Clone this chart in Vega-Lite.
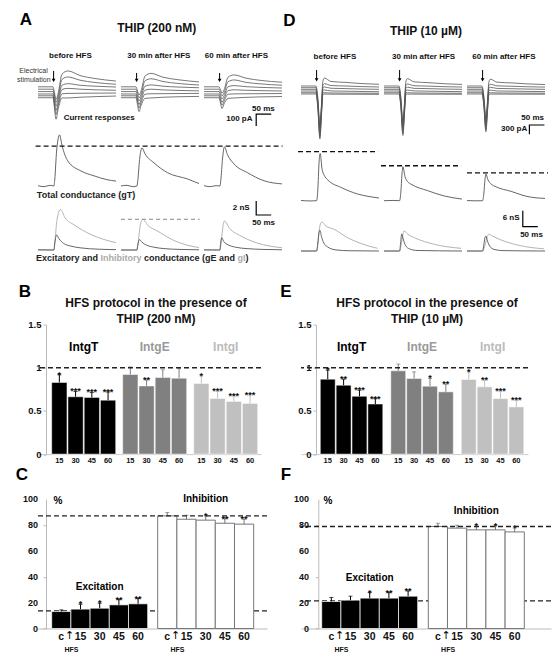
{
"$schema":"https://vega.github.io/schema/vega-lite/v6.json",
"background":"white",
"padding":{"left":15,"top":11,"right":0,"bottom":0},
"config":{"font":"Liberation Sans","view":{"stroke":null},"text":{"font":"Liberation Sans"},"title":{"font":"Liberation Sans"},"axis":{"labelFont":"Liberation Sans"}},
"datasets":{
"acur":[
{"s":"b","i":1,"t":0,"v":35},{"s":"b","i":1,"t":50,"v":35},{"s":"b","i":1,"t":55,"v":-18},{"s":"b","i":1,"t":60,"v":-70},{"s":"b","i":1,"t":67,"v":-23},{"s":"b","i":1,"t":80,"v":141},{"s":"b","i":1,"t":100,"v":167},{"s":"b","i":1,"t":140,"v":129},{"s":"b","i":1,"t":190,"v":104},{"s":"b","i":1,"t":260,"v":83},
{"s":"b","i":2,"t":0,"v":15},{"s":"b","i":2,"t":50,"v":15},{"s":"b","i":2,"t":55,"v":-40},{"s":"b","i":2,"t":60,"v":-95},{"s":"b","i":2,"t":67,"v":-46},{"s":"b","i":2,"t":80,"v":97},{"s":"b","i":2,"t":100,"v":117},{"s":"b","i":2,"t":140,"v":90},{"s":"b","i":2,"t":190,"v":71},{"s":"b","i":2,"t":260,"v":56},
{"s":"b","i":3,"t":0,"v":-5},{"s":"b","i":3,"t":50,"v":-5},{"s":"b","i":3,"t":55,"v":-65},{"s":"b","i":3,"t":60,"v":-125},{"s":"b","i":3,"t":67,"v":-71},{"s":"b","i":3,"t":80,"v":48},{"s":"b","i":3,"t":100,"v":61},{"s":"b","i":3,"t":140,"v":48},{"s":"b","i":3,"t":190,"v":40},{"s":"b","i":3,"t":260,"v":33},
{"s":"b","i":4,"t":0,"v":-25},{"s":"b","i":4,"t":50,"v":-25},{"s":"b","i":4,"t":55,"v":-93},{"s":"b","i":4,"t":60,"v":-160},{"s":"b","i":4,"t":67,"v":-99},{"s":"b","i":4,"t":80,"v":13},{"s":"b","i":4,"t":100,"v":22},{"s":"b","i":4,"t":140,"v":15},{"s":"b","i":4,"t":190,"v":10},{"s":"b","i":4,"t":260,"v":6},
{"s":"b","i":5,"t":0,"v":-40},{"s":"b","i":5,"t":50,"v":-40},{"s":"b","i":5,"t":55,"v":-118},{"s":"b","i":5,"t":60,"v":-195},{"s":"b","i":5,"t":67,"v":-125},{"s":"b","i":5,"t":80,"v":-24},{"s":"b","i":5,"t":100,"v":-20},{"s":"b","i":5,"t":140,"v":-19},{"s":"b","i":5,"t":190,"v":-18},{"s":"b","i":5,"t":260,"v":-17},
{"s":"b","i":6,"t":0,"v":-56},{"s":"b","i":6,"t":50,"v":-56},{"s":"b","i":6,"t":55,"v":-146},{"s":"b","i":6,"t":60,"v":-235},{"s":"b","i":6,"t":67,"v":-154},{"s":"b","i":6,"t":80,"v":-58},{"s":"b","i":6,"t":100,"v":-58},{"s":"b","i":6,"t":140,"v":-52},{"s":"b","i":6,"t":190,"v":-47},{"s":"b","i":6,"t":260,"v":-42},
{"s":"30","i":1,"t":0,"v":35},{"s":"30","i":1,"t":50,"v":35},{"s":"30","i":1,"t":55,"v":1},{"s":"30","i":1,"t":60,"v":-33},{"s":"30","i":1,"t":67,"v":0},{"s":"30","i":1,"t":80,"v":125},{"s":"30","i":1,"t":100,"v":147},{"s":"30","i":1,"t":140,"v":115},{"s":"30","i":1,"t":190,"v":94},{"s":"30","i":1,"t":260,"v":76},
{"s":"30","i":2,"t":0,"v":15},{"s":"30","i":2,"t":50,"v":15},{"s":"30","i":2,"t":55,"v":-21},{"s":"30","i":2,"t":60,"v":-57},{"s":"30","i":2,"t":67,"v":-25},{"s":"30","i":2,"t":80,"v":85},{"s":"30","i":2,"t":100,"v":102},{"s":"30","i":2,"t":140,"v":79},{"s":"30","i":2,"t":190,"v":63},{"s":"30","i":2,"t":260,"v":50},
{"s":"30","i":3,"t":0,"v":-5},{"s":"30","i":3,"t":50,"v":-5},{"s":"30","i":3,"t":55,"v":-44},{"s":"30","i":3,"t":60,"v":-83},{"s":"30","i":3,"t":67,"v":-48},{"s":"30","i":3,"t":80,"v":40},{"s":"30","i":3,"t":100,"v":51},{"s":"30","i":3,"t":140,"v":40},{"s":"30","i":3,"t":190,"v":33},{"s":"30","i":3,"t":260,"v":27},
{"s":"30","i":4,"t":0,"v":-25},{"s":"30","i":4,"t":50,"v":-25},{"s":"30","i":4,"t":55,"v":-69},{"s":"30","i":4,"t":60,"v":-113},{"s":"30","i":4,"t":67,"v":-73},{"s":"30","i":4,"t":80,"v":7},{"s":"30","i":4,"t":100,"v":15},{"s":"30","i":4,"t":140,"v":9},{"s":"30","i":4,"t":190,"v":5},{"s":"30","i":4,"t":260,"v":1},
{"s":"30","i":5,"t":0,"v":-40},{"s":"30","i":5,"t":50,"v":-40},{"s":"30","i":5,"t":55,"v":-90},{"s":"30","i":5,"t":60,"v":-141},{"s":"30","i":5,"t":67,"v":-95},{"s":"30","i":5,"t":80,"v":-27},{"s":"30","i":5,"t":100,"v":-23},{"s":"30","i":5,"t":140,"v":-22},{"s":"30","i":5,"t":190,"v":-21},{"s":"30","i":5,"t":260,"v":-20},
{"s":"30","i":6,"t":0,"v":-56},{"s":"30","i":6,"t":50,"v":-56},{"s":"30","i":6,"t":55,"v":-114},{"s":"30","i":6,"t":60,"v":-172},{"s":"30","i":6,"t":67,"v":-120},{"s":"30","i":6,"t":80,"v":-62},{"s":"30","i":6,"t":100,"v":-58},{"s":"30","i":6,"t":140,"v":-52},{"s":"30","i":6,"t":190,"v":-48},{"s":"30","i":6,"t":260,"v":-45},
{"s":"60","i":1,"t":0,"v":35},{"s":"60","i":1,"t":50,"v":35},{"s":"60","i":1,"t":55,"v":9},{"s":"60","i":1,"t":60,"v":-17},{"s":"60","i":1,"t":67,"v":10},{"s":"60","i":1,"t":80,"v":114},{"s":"60","i":1,"t":100,"v":134},{"s":"60","i":1,"t":140,"v":107},{"s":"60","i":1,"t":190,"v":88},{"s":"60","i":1,"t":260,"v":73},
{"s":"60","i":2,"t":0,"v":15},{"s":"60","i":2,"t":50,"v":15},{"s":"60","i":2,"t":55,"v":-12},{"s":"60","i":2,"t":60,"v":-40},{"s":"60","i":2,"t":67,"v":-15},{"s":"60","i":2,"t":80,"v":77},{"s":"60","i":2,"t":100,"v":92},{"s":"60","i":2,"t":140,"v":72},{"s":"60","i":2,"t":190,"v":59},{"s":"60","i":2,"t":260,"v":48},
{"s":"60","i":3,"t":0,"v":-5},{"s":"60","i":3,"t":50,"v":-5},{"s":"60","i":3,"t":55,"v":-35},{"s":"60","i":3,"t":60,"v":-65},{"s":"60","i":3,"t":67,"v":-38},{"s":"60","i":3,"t":80,"v":35},{"s":"60","i":3,"t":100,"v":45},{"s":"60","i":3,"t":140,"v":36},{"s":"60","i":3,"t":190,"v":30},{"s":"60","i":3,"t":260,"v":25},
{"s":"60","i":4,"t":0,"v":-25},{"s":"60","i":4,"t":50,"v":-25},{"s":"60","i":4,"t":55,"v":-59},{"s":"60","i":4,"t":60,"v":-93},{"s":"60","i":4,"t":67,"v":-62},{"s":"60","i":4,"t":80,"v":3},{"s":"60","i":4,"t":100,"v":10},{"s":"60","i":4,"t":140,"v":6},{"s":"60","i":4,"t":190,"v":3},{"s":"60","i":4,"t":260,"v":0},
{"s":"60","i":5,"t":0,"v":-40},{"s":"60","i":5,"t":50,"v":-40},{"s":"60","i":5,"t":55,"v":-79},{"s":"60","i":5,"t":60,"v":-118},{"s":"60","i":5,"t":67,"v":-83},{"s":"60","i":5,"t":80,"v":-27},{"s":"60","i":5,"t":100,"v":-24},{"s":"60","i":5,"t":140,"v":-23},{"s":"60","i":5,"t":190,"v":-22},{"s":"60","i":5,"t":260,"v":-21},
{"s":"60","i":6,"t":0,"v":-56},{"s":"60","i":6,"t":50,"v":-56},{"s":"60","i":6,"t":55,"v":-101},{"s":"60","i":6,"t":60,"v":-146},{"s":"60","i":6,"t":67,"v":-106},{"s":"60","i":6,"t":80,"v":-62},{"s":"60","i":6,"t":100,"v":-58},{"s":"60","i":6,"t":140,"v":-53},{"s":"60","i":6,"t":190,"v":-49},{"s":"60","i":6,"t":260,"v":-46}
],
"a1":[
{"k":"arr","s":"b","t":52,"v":167,"v2":88},{"k":"arr","s":"30","t":52,"v":150,"v2":88},{"k":"arr","s":"60","t":52,"v":150,"v2":88},
{"k":"sb","s":"60","o":1,"t":224,"v":-192},{"k":"sb","s":"60","o":2,"t":174,"v":-192},{"k":"sb","s":"60","o":3,"t":174,"v":-292},
{"k":"b8","s":"b","t":108,"v":292,"lab":"before HFS"},{"k":"b8","s":"30","t":126,"v":292,"lab":"30 min after HFS"},{"k":"b8","s":"60","t":108,"v":292,"lab":"60 min after HFS"},
{"k":"b8","s":"b","t":204,"v":-222,"lab":"Current responses"},
{"k":"b8","s":"60","t":198,"v":-152,"lab":"50 ms"},{"k":"b8","s":"60","t":118,"v":-236,"lab":"100 pA"},
{"k":"let","s":"b","t":-40,"v":589,"lab":"A"},
{"k":"ti","s":"30","t":119,"v":529,"lab":"THIP (200 nM)"},
{"k":"n7","s":"b","t":-15,"v":167,"lab":"Electrical"},{"k":"n7","s":"b","t":-14,"v":92,"lab":"stimulation"}
],
"agt":[
{"s":"b","i":"T","t":0,"v":0.05},{"s":"b","i":"T","t":20,"v":-0.1},{"s":"b","i":"T","t":40,"v":0.1},{"s":"b","i":"T","t":53,"v":0},{"s":"b","i":"T","t":56,"v":1.0},{"s":"b","i":"T","t":62,"v":5.0},{"s":"b","i":"T","t":72,"v":7.3},{"s":"b","i":"T","t":80,"v":5.8},{"s":"b","i":"T","t":99,"v":3.6},{"s":"b","i":"T","t":143,"v":2.15},{"s":"b","i":"T","t":187,"v":1.45},{"s":"b","i":"T","t":230,"v":0.9},{"s":"b","i":"T","t":260,"v":0.7},
{"s":"30","i":"T","t":0,"v":0},{"s":"30","i":"T","t":20,"v":0.1},{"s":"30","i":"T","t":40,"v":-0.1},{"s":"30","i":"T","t":53,"v":0},{"s":"30","i":"T","t":56,"v":0.8},{"s":"30","i":"T","t":62,"v":3.8},{"s":"30","i":"T","t":70,"v":5.45},{"s":"30","i":"T","t":80,"v":4.6},{"s":"30","i":"T","t":110,"v":3.3},{"s":"30","i":"T","t":155,"v":1.9},{"s":"30","i":"T","t":222,"v":1.0},{"s":"30","i":"T","t":260,"v":0.35},
{"s":"60","i":"T","t":0,"v":0.05},{"s":"60","i":"T","t":20,"v":-0.1},{"s":"60","i":"T","t":40,"v":0.05},{"s":"60","i":"T","t":53,"v":0},{"s":"60","i":"T","t":56,"v":0.8},{"s":"60","i":"T","t":62,"v":4.0},{"s":"60","i":"T","t":68,"v":5.6},{"s":"60","i":"T","t":78,"v":4.5},{"s":"60","i":"T","t":100,"v":3.15},{"s":"60","i":"T","t":145,"v":1.9},{"s":"60","i":"T","t":200,"v":0.75},{"s":"60","i":"T","t":260,"v":0.3}
],
"a2":[
{"k":"dash","s":"b","t":-8,"v":5.71},{"k":"dash","s":"b","t":268,"v":5.71},{"k":"dash","s":"30","t":-8,"v":5.71},{"k":"dash","s":"30","t":268,"v":5.71},{"k":"dash","s":"60","t":-8,"v":5.71},{"k":"dash","s":"60","t":262,"v":5.71},
{"k":"sb","s":"60","o":1,"t":174,"v":-2.14},{"k":"sb","s":"60","o":2,"t":174,"v":-4.14},{"k":"sb","s":"60","o":3,"t":224,"v":-4.14},
{"k":"b9","s":"b","t":160,"v":-1.29,"lab":"Total conductance (gT)"},
{"k":"b8","s":"60","t":124,"v":-3.1,"lab":"2 nS"},{"k":"b8","s":"60","t":199,"v":-5.24,"lab":"50 ms"}
],
"ag":[
{"s":"b","i":"I","t":0,"v":0},{"s":"b","i":"I","t":53,"v":0},{"s":"b","i":"I","t":57,"v":1.5},{"s":"b","i":"I","t":63,"v":4.2},{"s":"b","i":"I","t":75,"v":5.8},{"s":"b","i":"I","t":90,"v":4.6},{"s":"b","i":"I","t":120,"v":3.6},{"s":"b","i":"I","t":177,"v":2.2},{"s":"b","i":"I","t":220,"v":1.5},{"s":"b","i":"I","t":260,"v":1.05},
{"s":"b","i":"E","t":0,"v":0.03},{"s":"b","i":"E","t":53,"v":0},{"s":"b","i":"E","t":56,"v":1.0},{"s":"b","i":"E","t":62,"v":2.15},{"s":"b","i":"E","t":70,"v":1.6},{"s":"b","i":"E","t":85,"v":0.95},{"s":"b","i":"E","t":110,"v":0.55},{"s":"b","i":"E","t":143,"v":0.3},{"s":"b","i":"E","t":200,"v":0.12},{"s":"b","i":"E","t":260,"v":0.05},
{"s":"30","i":"I","t":0,"v":0},{"s":"30","i":"I","t":53,"v":0},{"s":"30","i":"I","t":57,"v":1.0},{"s":"30","i":"I","t":63,"v":3.2},{"s":"30","i":"I","t":72,"v":4.4},{"s":"30","i":"I","t":90,"v":3.5},{"s":"30","i":"I","t":122,"v":2.7},{"s":"30","i":"I","t":177,"v":1.35},{"s":"30","i":"I","t":220,"v":0.7},{"s":"30","i":"I","t":260,"v":0.35},
{"s":"30","i":"E","t":0,"v":0},{"s":"30","i":"E","t":53,"v":0},{"s":"30","i":"E","t":56,"v":0.7},{"s":"30","i":"E","t":61,"v":1.5},{"s":"30","i":"E","t":70,"v":1.1},{"s":"30","i":"E","t":85,"v":0.7},{"s":"30","i":"E","t":110,"v":0.4},{"s":"30","i":"E","t":143,"v":0.2},{"s":"30","i":"E","t":200,"v":0.08},{"s":"30","i":"E","t":260,"v":0.03},
{"s":"60","i":"I","t":0,"v":0.05},{"s":"60","i":"I","t":53,"v":0},{"s":"60","i":"I","t":57,"v":1.0},{"s":"60","i":"I","t":62,"v":3.0},{"s":"60","i":"I","t":68,"v":4.15},{"s":"60","i":"I","t":85,"v":3.1},{"s":"60","i":"I","t":123,"v":2.0},{"s":"60","i":"I","t":177,"v":1.0},{"s":"60","i":"I","t":220,"v":0.55},{"s":"60","i":"I","t":260,"v":0.33},
{"s":"60","i":"E","t":0,"v":0},{"s":"60","i":"E","t":53,"v":0},{"s":"60","i":"E","t":55,"v":0.8},{"s":"60","i":"E","t":59,"v":1.75},{"s":"60","i":"E","t":66,"v":1.2},{"s":"60","i":"E","t":80,"v":0.75},{"s":"60","i":"E","t":105,"v":0.4},{"s":"60","i":"E","t":143,"v":0.2},{"s":"60","i":"E","t":200,"v":0.08},{"s":"60","i":"E","t":260,"v":0.03}
],
"a3":[
{"k":"dash","s":"30","t":0,"v":4.39},{"k":"dash","s":"30","t":262,"v":4.39},
{"k":"seg","s":"b","t":-6.7,"v":-1.19,"lab":"Excitatory and"},{"k":"segl","s":"b","t":208,"v":-1.19,"lab":"Inhibitory"},{"k":"seg","s":"b","t":353,"v":-1.19,"lab":"conductance (gE and"},{"k":"segl","s":"b","t":665,"v":-1.19,"lab":"gI"},{"k":"seg","s":"b","t":692,"v":-1.19,"lab":")"}
],
"dcur":[
{"s":"b","i":1,"t":0,"v":126},{"s":"b","i":1,"t":50,"v":126},{"s":"b","i":1,"t":56,"v":-252},{"s":"b","i":1,"t":63,"v":-1134},{"s":"b","i":1,"t":68,"v":-504},{"s":"b","i":1,"t":73,"v":281},{"s":"b","i":1,"t":78,"v":384},{"s":"b","i":1,"t":100,"v":272},{"s":"b","i":1,"t":150,"v":242},{"s":"b","i":1,"t":200,"v":205},{"s":"b","i":1,"t":260,"v":181},
{"s":"b","i":2,"t":0,"v":71},{"s":"b","i":2,"t":50,"v":71},{"s":"b","i":2,"t":56,"v":-320},{"s":"b","i":2,"t":63,"v":-1231},{"s":"b","i":2,"t":68,"v":-580},{"s":"b","i":2,"t":73,"v":148},{"s":"b","i":2,"t":78,"v":200},{"s":"b","i":2,"t":100,"v":142},{"s":"b","i":2,"t":150,"v":126},{"s":"b","i":2,"t":200,"v":107},{"s":"b","i":2,"t":260,"v":94},
{"s":"b","i":3,"t":0,"v":19},{"s":"b","i":3,"t":50,"v":19},{"s":"b","i":3,"t":56,"v":-385},{"s":"b","i":3,"t":63,"v":-1328},{"s":"b","i":3,"t":68,"v":-654},{"s":"b","i":3,"t":73,"v":64},{"s":"b","i":3,"t":78,"v":94},{"s":"b","i":3,"t":100,"v":53},{"s":"b","i":3,"t":150,"v":41},{"s":"b","i":3,"t":200,"v":28},{"s":"b","i":3,"t":260,"v":19},
{"s":"b","i":4,"t":0,"v":-36},{"s":"b","i":4,"t":50,"v":-36},{"s":"b","i":4,"t":56,"v":-453},{"s":"b","i":4,"t":63,"v":-1425},{"s":"b","i":4,"t":68,"v":-730},{"s":"b","i":4,"t":73,"v":-16},{"s":"b","i":4,"t":78,"v":-3},{"s":"b","i":4,"t":100,"v":-33},{"s":"b","i":4,"t":150,"v":-42},{"s":"b","i":4,"t":200,"v":-51},{"s":"b","i":4,"t":260,"v":-58},
{"s":"b","i":5,"t":0,"v":-91},{"s":"b","i":5,"t":50,"v":-91},{"s":"b","i":5,"t":56,"v":-520},{"s":"b","i":5,"t":63,"v":-1521},{"s":"b","i":5,"t":68,"v":-806},{"s":"b","i":5,"t":73,"v":-91},{"s":"b","i":5,"t":78,"v":-91},{"s":"b","i":5,"t":100,"v":-100},{"s":"b","i":5,"t":150,"v":-104},{"s":"b","i":5,"t":200,"v":-107},{"s":"b","i":5,"t":260,"v":-110},
{"s":"b","i":6,"t":0,"v":-132},{"s":"b","i":6,"t":50,"v":-132},{"s":"b","i":6,"t":56,"v":-568},{"s":"b","i":6,"t":63,"v":-1586},{"s":"b","i":6,"t":68,"v":-859},{"s":"b","i":6,"t":73,"v":-150},{"s":"b","i":6,"t":78,"v":-135},{"s":"b","i":6,"t":100,"v":-137},{"s":"b","i":6,"t":150,"v":-139},{"s":"b","i":6,"t":200,"v":-141},{"s":"b","i":6,"t":260,"v":-142},
{"s":"30","i":1,"t":0,"v":126},{"s":"30","i":1,"t":50,"v":126},{"s":"30","i":1,"t":56,"v":-222},{"s":"30","i":1,"t":63,"v":-1033},{"s":"30","i":1,"t":68,"v":-454},{"s":"30","i":1,"t":73,"v":268},{"s":"30","i":1,"t":78,"v":363},{"s":"30","i":1,"t":100,"v":261},{"s":"30","i":1,"t":150,"v":233},{"s":"30","i":1,"t":200,"v":199},{"s":"30","i":1,"t":260,"v":177},
{"s":"30","i":2,"t":0,"v":71},{"s":"30","i":2,"t":50,"v":71},{"s":"30","i":2,"t":56,"v":-288},{"s":"30","i":2,"t":63,"v":-1127},{"s":"30","i":2,"t":68,"v":-528},{"s":"30","i":2,"t":73,"v":142},{"s":"30","i":2,"t":78,"v":190},{"s":"30","i":2,"t":100,"v":136},{"s":"30","i":2,"t":150,"v":121},{"s":"30","i":2,"t":200,"v":104},{"s":"30","i":2,"t":260,"v":92},
{"s":"30","i":3,"t":0,"v":19},{"s":"30","i":3,"t":50,"v":19},{"s":"30","i":3,"t":56,"v":-353},{"s":"30","i":3,"t":63,"v":-1220},{"s":"30","i":3,"t":68,"v":-601},{"s":"30","i":3,"t":73,"v":60},{"s":"30","i":3,"t":78,"v":88},{"s":"30","i":3,"t":100,"v":50},{"s":"30","i":3,"t":150,"v":40},{"s":"30","i":3,"t":200,"v":27},{"s":"30","i":3,"t":260,"v":19},
{"s":"30","i":4,"t":0,"v":-36},{"s":"30","i":4,"t":50,"v":-36},{"s":"30","i":4,"t":56,"v":-419},{"s":"30","i":4,"t":63,"v":-1314},{"s":"30","i":4,"t":68,"v":-675},{"s":"30","i":4,"t":73,"v":-18},{"s":"30","i":4,"t":78,"v":-6},{"s":"30","i":4,"t":100,"v":-33},{"s":"30","i":4,"t":150,"v":-41},{"s":"30","i":4,"t":200,"v":-50},{"s":"30","i":4,"t":260,"v":-56},
{"s":"30","i":5,"t":0,"v":-91},{"s":"30","i":5,"t":50,"v":-91},{"s":"30","i":5,"t":56,"v":-486},{"s":"30","i":5,"t":63,"v":-1407},{"s":"30","i":5,"t":68,"v":-749},{"s":"30","i":5,"t":73,"v":-91},{"s":"30","i":5,"t":78,"v":-91},{"s":"30","i":5,"t":100,"v":-99},{"s":"30","i":5,"t":150,"v":-103},{"s":"30","i":5,"t":200,"v":-106},{"s":"30","i":5,"t":260,"v":-108},
{"s":"30","i":6,"t":0,"v":-132},{"s":"30","i":6,"t":50,"v":-132},{"s":"30","i":6,"t":56,"v":-533},{"s":"30","i":6,"t":63,"v":-1470},{"s":"30","i":6,"t":68,"v":-801},{"s":"30","i":6,"t":73,"v":-148},{"s":"30","i":6,"t":78,"v":-134},{"s":"30","i":6,"t":100,"v":-136},{"s":"30","i":6,"t":150,"v":-138},{"s":"30","i":6,"t":200,"v":-139},{"s":"30","i":6,"t":260,"v":-140},
{"s":"60","i":1,"t":0,"v":126},{"s":"60","i":1,"t":50,"v":126},{"s":"60","i":1,"t":56,"v":-191},{"s":"60","i":1,"t":63,"v":-932},{"s":"60","i":1,"t":68,"v":-403},{"s":"60","i":1,"t":73,"v":257},{"s":"60","i":1,"t":78,"v":345},{"s":"60","i":1,"t":100,"v":250},{"s":"60","i":1,"t":150,"v":225},{"s":"60","i":1,"t":200,"v":194},{"s":"60","i":1,"t":260,"v":173},
{"s":"60","i":2,"t":0,"v":71},{"s":"60","i":2,"t":50,"v":71},{"s":"60","i":2,"t":56,"v":-257},{"s":"60","i":2,"t":63,"v":-1023},{"s":"60","i":2,"t":68,"v":-476},{"s":"60","i":2,"t":73,"v":137},{"s":"60","i":2,"t":78,"v":181},{"s":"60","i":2,"t":100,"v":132},{"s":"60","i":2,"t":150,"v":118},{"s":"60","i":2,"t":200,"v":102},{"s":"60","i":2,"t":260,"v":91},
{"s":"60","i":3,"t":0,"v":19},{"s":"60","i":3,"t":50,"v":19},{"s":"60","i":3,"t":56,"v":-320},{"s":"60","i":3,"t":63,"v":-1112},{"s":"60","i":3,"t":68,"v":-547},{"s":"60","i":3,"t":73,"v":57},{"s":"60","i":3,"t":78,"v":83},{"s":"60","i":3,"t":100,"v":48},{"s":"60","i":3,"t":150,"v":38},{"s":"60","i":3,"t":200,"v":27},{"s":"60","i":3,"t":260,"v":19},
{"s":"60","i":4,"t":0,"v":-36},{"s":"60","i":4,"t":50,"v":-36},{"s":"60","i":4,"t":56,"v":-386},{"s":"60","i":4,"t":63,"v":-1203},{"s":"60","i":4,"t":68,"v":-620},{"s":"60","i":4,"t":73,"v":-19},{"s":"60","i":4,"t":78,"v":-8},{"s":"60","i":4,"t":100,"v":-34},{"s":"60","i":4,"t":150,"v":-41},{"s":"60","i":4,"t":200,"v":-49},{"s":"60","i":4,"t":260,"v":-55},
{"s":"60","i":5,"t":0,"v":-91},{"s":"60","i":5,"t":50,"v":-91},{"s":"60","i":5,"t":56,"v":-451},{"s":"60","i":5,"t":63,"v":-1292},{"s":"60","i":5,"t":68,"v":-692},{"s":"60","i":5,"t":73,"v":-91},{"s":"60","i":5,"t":78,"v":-91},{"s":"60","i":5,"t":100,"v":-98},{"s":"60","i":5,"t":150,"v":-102},{"s":"60","i":5,"t":200,"v":-105},{"s":"60","i":5,"t":260,"v":-107},
{"s":"60","i":6,"t":0,"v":-132},{"s":"60","i":6,"t":50,"v":-132},{"s":"60","i":6,"t":56,"v":-498},{"s":"60","i":6,"t":63,"v":-1353},{"s":"60","i":6,"t":68,"v":-743},{"s":"60","i":6,"t":73,"v":-148},{"s":"60","i":6,"t":78,"v":-134},{"s":"60","i":6,"t":100,"v":-135},{"s":"60","i":6,"t":150,"v":-137},{"s":"60","i":6,"t":200,"v":-138},{"s":"60","i":6,"t":260,"v":-139}
],
"d1":[
{"k":"arr","s":"b","t":52,"v":643,"v2":320},{"k":"arr","s":"30","t":52,"v":643,"v2":320},{"k":"arr","s":"60","t":52,"v":643,"v2":320},
{"k":"sb","s":"60","o":1,"t":258,"v":-1134},{"k":"sb","s":"60","o":2,"t":208,"v":-1134},{"k":"sb","s":"60","o":3,"t":208,"v":-1434},
{"k":"b8","s":"b","t":113,"v":1063,"lab":"before HFS"},{"k":"b8","s":"30","t":132,"v":1063,"lab":"30 min after HFS"},{"k":"b8","s":"60","t":123,"v":1063,"lab":"60 min after HFS"},
{"k":"b8","s":"60","t":219,"v":-908,"lab":"50 ms"},{"k":"b8","s":"60","t":157,"v":-1273,"lab":"300 pA"},
{"k":"let","s":"b","t":-39,"v":2225,"lab":"D"},
{"k":"ti","s":"30","t":140,"v":1902,"lab":"THIP (10 µM)"}
],
"dgt":[
{"s":"b","i":"T","t":0,"v":0.1},{"s":"b","i":"T","t":30,"v":-0.1},{"s":"b","i":"T","t":52,"v":0},{"s":"b","i":"T","t":56,"v":4},{"s":"b","i":"T","t":60,"v":14},{"s":"b","i":"T","t":64,"v":17.7},{"s":"b","i":"T","t":70,"v":12},{"s":"b","i":"T","t":80,"v":9},{"s":"b","i":"T","t":90,"v":7.7},{"s":"b","i":"T","t":133,"v":5.0},{"s":"b","i":"T","t":189,"v":2.5},{"s":"b","i":"T","t":230,"v":1.5},{"s":"b","i":"T","t":260,"v":1.0},
{"s":"30","i":"T","t":0,"v":0},{"s":"30","i":"T","t":30,"v":0.1},{"s":"30","i":"T","t":52,"v":0},{"s":"30","i":"T","t":56,"v":3},{"s":"30","i":"T","t":60,"v":10},{"s":"30","i":"T","t":63,"v":12.75},{"s":"30","i":"T","t":70,"v":9},{"s":"30","i":"T","t":80,"v":7},{"s":"30","i":"T","t":90,"v":6.2},{"s":"30","i":"T","t":146,"v":3.75},{"s":"30","i":"T","t":200,"v":1.8},{"s":"30","i":"T","t":260,"v":0.6},
{"s":"60","i":"T","t":0,"v":0.05},{"s":"60","i":"T","t":30,"v":-0.05},{"s":"60","i":"T","t":52,"v":0},{"s":"60","i":"T","t":56,"v":2.5},{"s":"60","i":"T","t":60,"v":8},{"s":"60","i":"T","t":63,"v":10},{"s":"60","i":"T","t":70,"v":7.8},{"s":"60","i":"T","t":80,"v":6.3},{"s":"60","i":"T","t":97,"v":5.2},{"s":"60","i":"T","t":147,"v":3.5},{"s":"60","i":"T","t":200,"v":1.6},{"s":"60","i":"T","t":260,"v":0.85}
],
"d2":[
{"k":"dash","s":"b","t":-10,"v":18.4},{"k":"dash","s":"b","t":257,"v":18.4},{"k":"dash","s":"30","t":-10,"v":13.1},{"k":"dash","s":"30","t":257,"v":13.1},{"k":"dash","s":"60","t":0,"v":10.4},{"k":"dash","s":"60","t":270,"v":10.4},
{"k":"sb","s":"60","o":1,"t":186,"v":-3.75},{"k":"sb","s":"60","o":2,"t":186,"v":-9.75},{"k":"sb","s":"60","o":3,"t":236,"v":-9.75},
{"k":"b8","s":"60","t":147,"v":-6.6,"lab":"6 nS"},{"k":"b8","s":"60","t":215,"v":-12.9,"lab":"50 ms"}
],
"dg":[
{"s":"b","i":"I","t":0,"v":0},{"s":"b","i":"I","t":52,"v":0},{"s":"b","i":"I","t":56,"v":2},{"s":"b","i":"I","t":61,"v":8},{"s":"b","i":"I","t":66,"v":10.5},{"s":"b","i":"I","t":70,"v":10.9},{"s":"b","i":"I","t":80,"v":9.6},{"s":"b","i":"I","t":111,"v":8.1},{"s":"b","i":"I","t":155,"v":5.0},{"s":"b","i":"I","t":200,"v":2.8},{"s":"b","i":"I","t":255,"v":1.0},
{"s":"b","i":"E","t":0,"v":0},{"s":"b","i":"E","t":52,"v":0},{"s":"b","i":"E","t":56,"v":3},{"s":"b","i":"E","t":60,"v":7},{"s":"b","i":"E","t":63,"v":7.8},{"s":"b","i":"E","t":68,"v":5.5},{"s":"b","i":"E","t":76,"v":3.0},{"s":"b","i":"E","t":89,"v":1.5},{"s":"b","i":"E","t":117,"v":0.4},{"s":"b","i":"E","t":160,"v":0.1},{"s":"b","i":"E","t":260,"v":0},
{"s":"30","i":"I","t":0,"v":0},{"s":"30","i":"I","t":52,"v":0},{"s":"30","i":"I","t":56,"v":1.5},{"s":"30","i":"I","t":61,"v":5},{"s":"30","i":"I","t":67,"v":7.5},{"s":"30","i":"I","t":80,"v":6.2},{"s":"30","i":"I","t":101,"v":5.0},{"s":"30","i":"I","t":168,"v":2.5},{"s":"30","i":"I","t":257,"v":1.0},
{"s":"30","i":"E","t":0,"v":0},{"s":"30","i":"E","t":52,"v":0},{"s":"30","i":"E","t":55,"v":2.5},{"s":"30","i":"E","t":59,"v":6.4},{"s":"30","i":"E","t":64,"v":4.5},{"s":"30","i":"E","t":72,"v":2.0},{"s":"30","i":"E","t":85,"v":0.8},{"s":"30","i":"E","t":110,"v":0.2},{"s":"30","i":"E","t":260,"v":0},
{"s":"60","i":"I","t":0,"v":0},{"s":"60","i":"I","t":52,"v":0},{"s":"60","i":"I","t":57,"v":1.0},{"s":"60","i":"I","t":63,"v":3.5},{"s":"60","i":"I","t":68,"v":5.5},{"s":"60","i":"I","t":73,"v":6.3},{"s":"60","i":"I","t":85,"v":5.6},{"s":"60","i":"I","t":110,"v":4.3},{"s":"60","i":"I","t":170,"v":2.2},{"s":"60","i":"I","t":257,"v":0.8},
{"s":"60","i":"E","t":0,"v":0},{"s":"60","i":"E","t":52,"v":0},{"s":"60","i":"E","t":56,"v":2.2},{"s":"60","i":"E","t":60,"v":5.0},{"s":"60","i":"E","t":63,"v":5.6},{"s":"60","i":"E","t":68,"v":3.8},{"s":"60","i":"E","t":76,"v":1.8},{"s":"60","i":"E","t":90,"v":0.6},{"s":"60","i":"E","t":120,"v":0.15},{"s":"60","i":"E","t":260,"v":0}
],
"bd":[
{"g":"IntgT","t":"15","v":0.83,"hi":0.92,"s":"*"},{"g":"IntgT","t":"30","v":0.664,"hi":0.726,"s":"***"},{"g":"IntgT","t":"45","v":0.656,"hi":0.714,"s":"***"},{"g":"IntgT","t":"60","v":0.625,"hi":0.72,"s":"***"},
{"g":"IntgE","t":"15","v":0.923,"hi":1.01,"s":""},{"g":"IntgE","t":"30","v":0.79,"hi":0.86,"s":"**"},{"g":"IntgE","t":"45","v":0.888,"hi":0.977,"s":""},{"g":"IntgE","t":"60","v":0.88,"hi":0.99,"s":""},
{"g":"IntgI","t":"15","v":0.818,"hi":0.907,"s":"*"},{"g":"IntgI","t":"30","v":0.645,"hi":0.726,"s":"***"},{"g":"IntgI","t":"45","v":0.61,"hi":0.676,"s":"***"},{"g":"IntgI","t":"60","v":0.587,"hi":0.683,"s":"***"}
],
"ed":[
{"g":"IntgT","t":"15","v":0.868,"hi":0.973,"s":"*"},{"g":"IntgT","t":"30","v":0.798,"hi":0.868,"s":"**"},{"g":"IntgT","t":"45","v":0.67,"hi":0.74,"s":"***"},{"g":"IntgT","t":"60","v":0.58,"hi":0.643,"s":"***"},
{"g":"IntgE","t":"15","v":0.965,"hi":1.043,"s":""},{"g":"IntgE","t":"30","v":0.876,"hi":0.953,"s":""},{"g":"IntgE","t":"45","v":0.787,"hi":0.876,"s":"*"},{"g":"IntgE","t":"60","v":0.721,"hi":0.81,"s":"**"},
{"g":"IntgI","t":"15","v":0.864,"hi":0.953,"s":"*"},{"g":"IntgI","t":"30","v":0.779,"hi":0.857,"s":"**"},{"g":"IntgI","t":"45","v":0.643,"hi":0.729,"s":"***"},{"g":"IntgI","t":"60","v":0.547,"hi":0.624,"s":"***"}
],
"cd":[
{"g":"Excitation","t":"c","v":13.1,"hi":14.4,"s":""},{"g":"Excitation","t":"15","v":15.0,"hi":18.8,"s":"*"},{"g":"Excitation","t":"30","v":15.7,"hi":19.6,"s":"*"},{"g":"Excitation","t":"45","v":18.3,"hi":22.4,"s":"**"},{"g":"Excitation","t":"60","v":19.1,"hi":23.2,"s":"**"},
{"g":"Inhibition","t":"c","v":87.1,"hi":89.7,"s":""},{"g":"Inhibition","t":"15","v":84.5,"hi":87.6,"s":""},{"g":"Inhibition","t":"30","v":83.8,"hi":87.1,"s":"*"},{"g":"Inhibition","t":"45","v":81.4,"hi":85.0,"s":"**"},{"g":"Inhibition","t":"60","v":80.7,"hi":84.5,"s":"**"}
],
"fd":[
{"g":"Excitation","t":"c","v":20.9,"hi":24.0,"s":""},{"g":"Excitation","t":"15","v":21.9,"hi":25.0,"s":""},{"g":"Excitation","t":"30","v":23.5,"hi":27.8,"s":"*"},{"g":"Excitation","t":"45","v":23.5,"hi":27.8,"s":"**"},{"g":"Excitation","t":"60","v":25.0,"hi":29.1,"s":"**"},
{"g":"Inhibition","t":"c","v":78.9,"hi":81.4,"s":""},{"g":"Inhibition","t":"15","v":77.6,"hi":79.9,"s":""},{"g":"Inhibition","t":"30","v":76.3,"hi":78.9,"s":"*"},{"g":"Inhibition","t":"45","v":76.3,"hi":79.4,"s":"*"},{"g":"Inhibition","t":"60","v":74.7,"hi":77.8,"s":"*"}
],
"pct":[{"y":0},{"y":20},{"y":40},{"y":60},{"y":80},{"y":100}]
},
"concat":[
{"width":244,"height":218.2,
 "resolve":{"scale":{"y":"independent"}},
 "encoding":{"x":{"field":"s","type":"nominal","scale":{"domain":["b","30","60"],"paddingInner":0.0602,"paddingOuter":0},"axis":null},"xOffset":{"field":"t","type":"quantitative","scale":{"domain":[0,260],"nice":false,"zero":false}}},
 "layer":[
  {"data":{"name":"acur"},"mark":{"type":"line","interpolate":"monotone","strokeWidth":0.8,"color":"#555"},"encoding":{"y":{"field":"v","type":"quantitative","scale":{"domain":[-1568.3,250],"nice":false,"zero":false},"axis":null},"detail":[{"field":"s"},{"field":"i"}],"order":{"field":"t","type":"quantitative"}}},
  {"data":{"name":"a1"},"transform":[{"filter":"datum.k==='arr'"}],"mark":{"type":"rule","strokeWidth":1,"color":"#000"},"encoding":{"y":{"field":"v","type":"quantitative","scale":{"domain":[-1568.3,250],"nice":false,"zero":false},"axis":null},"y2":{"field":"v2"}}},
  {"data":{"name":"a1"},"transform":[{"filter":"datum.k==='arr'"}],"mark":{"type":"point","shape":"triangle-down","size":14,"filled":true,"color":"#000","opacity":1},"encoding":{"y":{"field":"v2","type":"quantitative","scale":{"domain":[-1568.3,250],"nice":false,"zero":false},"axis":null}}},
  {"data":{"name":"a1"},"transform":[{"filter":"datum.k==='sb'"}],"mark":{"type":"line","strokeWidth":1.2,"color":"#000"},"encoding":{"y":{"field":"v","type":"quantitative","scale":{"domain":[-1568.3,250],"nice":false,"zero":false},"axis":null},"order":{"field":"o","type":"quantitative"}}},
  {"data":{"name":"a1"},"transform":[{"filter":"datum.k==='let'"}],"mark":{"type":"text","fontSize":17,"fontWeight":"bold","color":"#000"},"encoding":{"y":{"field":"v","type":"quantitative","scale":{"domain":[-1568.3,250],"nice":false,"zero":false},"axis":null},"text":{"field":"lab"}}},
  {"data":{"name":"a1"},"transform":[{"filter":"datum.k==='ti'"}],"mark":{"type":"text","fontSize":12,"fontWeight":"bold","color":"#111"},"encoding":{"y":{"field":"v","type":"quantitative","scale":{"domain":[-1568.3,250],"nice":false,"zero":false},"axis":null},"text":{"field":"lab"}}},
  {"data":{"name":"a1"},"transform":[{"filter":"datum.k==='b8'"}],"mark":{"type":"text","fontSize":8,"fontWeight":"bold","color":"#111"},"encoding":{"y":{"field":"v","type":"quantitative","scale":{"domain":[-1568.3,250],"nice":false,"zero":false},"axis":null},"text":{"field":"lab"}}},
  {"data":{"name":"a1"},"transform":[{"filter":"datum.k==='n7'"}],"mark":{"type":"text","fontSize":7,"color":"#333"},"encoding":{"y":{"field":"v","type":"quantitative","scale":{"domain":[-1568.3,250],"nice":false,"zero":false},"axis":null},"text":{"field":"lab"}}},
  {"data":{"name":"agt"},"mark":{"type":"line","interpolate":"monotone","strokeWidth":0.9,"color":"#555"},"encoding":{"y":{"field":"v","type":"quantitative","scale":{"domain":[-13.314,17.857],"nice":false,"zero":false},"axis":null},"detail":[{"field":"s"},{"field":"i"}],"order":{"field":"t","type":"quantitative"}}},
  {"data":{"name":"a2"},"transform":[{"filter":"datum.k==='dash'"}],"mark":{"type":"line","strokeWidth":1.3,"strokeDash":[5,3],"color":"#111"},"encoding":{"y":{"field":"v","type":"quantitative","scale":{"domain":[-13.314,17.857],"nice":false,"zero":false},"axis":null},"detail":{"field":"s"},"order":{"field":"t","type":"quantitative"}}},
  {"data":{"name":"a2"},"transform":[{"filter":"datum.k==='sb'"}],"mark":{"type":"line","strokeWidth":1.2,"color":"#000"},"encoding":{"y":{"field":"v","type":"quantitative","scale":{"domain":[-13.314,17.857],"nice":false,"zero":false},"axis":null},"order":{"field":"o","type":"quantitative"}}},
  {"data":{"name":"a2"},"transform":[{"filter":"datum.k==='b9'"}],"mark":{"type":"text","fontSize":9,"fontWeight":"bold","color":"#222"},"encoding":{"y":{"field":"v","type":"quantitative","scale":{"domain":[-13.314,17.857],"nice":false,"zero":false},"axis":null},"text":{"field":"lab"}}},
  {"data":{"name":"a2"},"transform":[{"filter":"datum.k==='b8'"}],"mark":{"type":"text","fontSize":8,"fontWeight":"bold","color":"#111"},"encoding":{"y":{"field":"v","type":"quantitative","scale":{"domain":[-13.314,17.857],"nice":false,"zero":false},"axis":null},"text":{"field":"lab"}}},
  {"data":{"name":"ag"},"mark":{"type":"line","interpolate":"monotone","strokeWidth":0.9},"encoding":{"y":{"field":"v","type":"quantitative","scale":{"domain":[-4.171,27],"nice":false,"zero":false},"axis":null},"detail":[{"field":"s"},{"field":"i"}],"order":{"field":"t","type":"quantitative"},"color":{"field":"i","type":"nominal","scale":{"domain":["E","I"],"range":["#555555","#aaaaaa"]},"legend":null}}},
  {"data":{"name":"a3"},"transform":[{"filter":"datum.k==='dash'"}],"mark":{"type":"line","strokeWidth":1,"strokeDash":[4,3],"color":"#888"},"encoding":{"y":{"field":"v","type":"quantitative","scale":{"domain":[-4.171,27],"nice":false,"zero":false},"axis":null},"detail":{"field":"s"},"order":{"field":"t","type":"quantitative"}}},
  {"data":{"name":"a3"},"transform":[{"filter":"datum.k==='seg'"}],"mark":{"type":"text","fontSize":9,"fontWeight":"bold","align":"left","color":"#222"},"encoding":{"y":{"field":"v","type":"quantitative","scale":{"domain":[-4.171,27],"nice":false,"zero":false},"axis":null},"text":{"field":"lab"}}},
  {"data":{"name":"a3"},"transform":[{"filter":"datum.k==='segl'"}],"mark":{"type":"text","fontSize":9,"fontWeight":"bold","align":"left","color":"#aaa"},"encoding":{"y":{"field":"v","type":"quantitative","scale":{"domain":[-4.171,27],"nice":false,"zero":false},"axis":null},"text":{"field":"lab"}}}
 ]},
{"width":244,"height":218.2,
 "resolve":{"scale":{"y":"independent"}},
 "encoding":{"x":{"field":"s","type":"nominal","scale":{"domain":["b","30","60"],"paddingInner":0.0602,"paddingOuter":0},"axis":null},"xOffset":{"field":"t","type":"quantitative","scale":{"domain":[0,260],"nice":false,"zero":false}}},
 "layer":[
  {"data":{"name":"dcur"},"mark":{"type":"line","interpolate":"monotone","strokeWidth":0.8,"color":"#555"},"encoding":{"y":{"field":"v","type":"quantitative","scale":{"domain":[-6114,933.5],"nice":false,"zero":false},"axis":null},"detail":[{"field":"s"},{"field":"i"}],"order":{"field":"t","type":"quantitative"}}},
  {"data":{"name":"d1"},"transform":[{"filter":"datum.k==='arr'"}],"mark":{"type":"rule","strokeWidth":1,"color":"#000"},"encoding":{"y":{"field":"v","type":"quantitative","scale":{"domain":[-6114,933.5],"nice":false,"zero":false},"axis":null},"y2":{"field":"v2"}}},
  {"data":{"name":"d1"},"transform":[{"filter":"datum.k==='arr'"}],"mark":{"type":"point","shape":"triangle-down","size":14,"filled":true,"color":"#000","opacity":1},"encoding":{"y":{"field":"v2","type":"quantitative","scale":{"domain":[-6114,933.5],"nice":false,"zero":false},"axis":null}}},
  {"data":{"name":"d1"},"transform":[{"filter":"datum.k==='sb'"}],"mark":{"type":"line","strokeWidth":1.2,"color":"#000"},"encoding":{"y":{"field":"v","type":"quantitative","scale":{"domain":[-6114,933.5],"nice":false,"zero":false},"axis":null},"order":{"field":"o","type":"quantitative"}}},
  {"data":{"name":"d1"},"transform":[{"filter":"datum.k==='let'"}],"mark":{"type":"text","fontSize":17,"fontWeight":"bold","color":"#000"},"encoding":{"y":{"field":"v","type":"quantitative","scale":{"domain":[-6114,933.5],"nice":false,"zero":false},"axis":null},"text":{"field":"lab"}}},
  {"data":{"name":"d1"},"transform":[{"filter":"datum.k==='ti'"}],"mark":{"type":"text","fontSize":12,"fontWeight":"bold","color":"#111"},"encoding":{"y":{"field":"v","type":"quantitative","scale":{"domain":[-6114,933.5],"nice":false,"zero":false},"axis":null},"text":{"field":"lab"}}},
  {"data":{"name":"d1"},"transform":[{"filter":"datum.k==='b8'"}],"mark":{"type":"text","fontSize":8,"fontWeight":"bold","color":"#111"},"encoding":{"y":{"field":"v","type":"quantitative","scale":{"domain":[-6114,933.5],"nice":false,"zero":false},"axis":null},"text":{"field":"lab"}}},
  {"data":{"name":"dgt"},"mark":{"type":"line","interpolate":"monotone","strokeWidth":0.9,"color":"#555"},"encoding":{"y":{"field":"v","type":"quantitative","scale":{"domain":[-29.44,52.39],"nice":false,"zero":false},"axis":null},"detail":[{"field":"s"},{"field":"i"}],"order":{"field":"t","type":"quantitative"}}},
  {"data":{"name":"d2"},"transform":[{"filter":"datum.k==='dash'"}],"mark":{"type":"line","strokeWidth":1.3,"strokeDash":[5,3],"color":"#111"},"encoding":{"y":{"field":"v","type":"quantitative","scale":{"domain":[-29.44,52.39],"nice":false,"zero":false},"axis":null},"detail":{"field":"s"},"order":{"field":"t","type":"quantitative"}}},
  {"data":{"name":"d2"},"transform":[{"filter":"datum.k==='sb'"}],"mark":{"type":"line","strokeWidth":1.2,"color":"#000"},"encoding":{"y":{"field":"v","type":"quantitative","scale":{"domain":[-29.44,52.39],"nice":false,"zero":false},"axis":null},"order":{"field":"o","type":"quantitative"}}},
  {"data":{"name":"d2"},"transform":[{"filter":"datum.k==='b8'"}],"mark":{"type":"text","fontSize":8,"fontWeight":"bold","color":"#111"},"encoding":{"y":{"field":"v","type":"quantitative","scale":{"domain":[-29.44,52.39],"nice":false,"zero":false},"axis":null},"text":{"field":"lab"}}},
  {"data":{"name":"dg"},"mark":{"type":"line","interpolate":"monotone","strokeWidth":0.9},"encoding":{"y":{"field":"v","type":"quantitative","scale":{"domain":[-10.575,71.25],"nice":false,"zero":false},"axis":null},"detail":[{"field":"s"},{"field":"i"}],"order":{"field":"t","type":"quantitative"},"color":{"field":"i","type":"nominal","scale":{"domain":["E","I"],"range":["#555555","#aaaaaa"]},"legend":null}}}
 ]},
{"data":{"name":"bd"},"width":223,"height":129.5,
 "layer":[
  {"mark":{"type":"bar","stroke":"white","strokeWidth":0.5},"encoding":{"x":{"field":"g","type":"nominal","scale":{"domain":["IntgT","IntgE","IntgI"],"paddingInner":0.0986,"paddingOuter":0.1197,"align":0.806},"axis":{"labels":false,"ticks":false,"title":null,"domainColor":"#ccc"}},"xOffset":{"field":"t","type":"nominal","scale":{"domain":["15","30","45","60"],"paddingInner":0.06}},"y":{"field":"v","type":"quantitative","scale":{"domain":[0,1.5],"nice":false},"axis":{"values":[0,0.5,1,1.5],"format":"~g","labelOverlap":false,"labelFontWeight":"bold","labelFontSize":9.5,"labelColor":"#111","domainColor":"#bbb","tickColor":"#bbb","tickSize":3,"grid":false,"title":null,"offset":-8,"labelPadding":2}},"color":{"field":"g","type":"nominal","scale":{"domain":["IntgT","IntgE","IntgI"],"range":["#000000","#808080","#c0c0c0"]},"legend":null}}},
  {"mark":{"type":"rule","strokeWidth":1},"encoding":{"x":{"field":"g","type":"nominal","scale":{"domain":["IntgT","IntgE","IntgI"],"paddingInner":0.0986,"paddingOuter":0.1197,"align":0.806}},"xOffset":{"field":"t","type":"nominal","scale":{"domain":["15","30","45","60"],"paddingInner":0.06}},"y":{"field":"v","type":"quantitative","scale":{"domain":[0,1.5],"nice":false}},"y2":{"field":"hi"},"color":{"field":"g","type":"nominal","scale":{"domain":["IntgT","IntgE","IntgI"],"range":["#000000","#808080","#c0c0c0"]},"legend":null}}},
  {"mark":{"type":"tick","thickness":1,"size":4},"encoding":{"x":{"field":"g","type":"nominal","scale":{"domain":["IntgT","IntgE","IntgI"],"paddingInner":0.0986,"paddingOuter":0.1197,"align":0.806}},"xOffset":{"field":"t","type":"nominal","scale":{"domain":["15","30","45","60"],"paddingInner":0.06}},"y":{"field":"hi","type":"quantitative","scale":{"domain":[0,1.5],"nice":false}},"color":{"field":"g","type":"nominal","scale":{"domain":["IntgT","IntgE","IntgI"],"range":["#000000","#808080","#c0c0c0"]},"legend":null}}},
  {"mark":{"type":"text","fontSize":9,"fontWeight":"bold","baseline":"alphabetic","dy":3,"color":"#111"},"encoding":{"x":{"field":"g","type":"nominal","scale":{"domain":["IntgT","IntgE","IntgI"],"paddingInner":0.0986,"paddingOuter":0.1197,"align":0.806}},"xOffset":{"field":"t","type":"nominal","scale":{"domain":["15","30","45","60"],"paddingInner":0.06}},"y":{"field":"hi","type":"quantitative","scale":{"domain":[0,1.5],"nice":false}},"text":{"field":"s"}}},
  {"mark":{"type":"text","fontSize":7.5,"fontWeight":"bold","baseline":"top","dy":3,"color":"#111"},"encoding":{"x":{"field":"g","type":"nominal","scale":{"domain":["IntgT","IntgE","IntgI"],"paddingInner":0.0986,"paddingOuter":0.1197,"align":0.806}},"xOffset":{"field":"t","type":"nominal","scale":{"domain":["15","30","45","60"],"paddingInner":0.06}},"y":{"datum":0},"text":{"field":"t"}}},
  {"data":{"values":[{"g":"IntgT"},{"g":"IntgE"},{"g":"IntgI"}]},"mark":{"type":"text","fontSize":12,"fontWeight":"bold"},"encoding":{"x":{"field":"g","type":"nominal","scale":{"domain":["IntgT","IntgE","IntgI"],"paddingInner":0.0986,"paddingOuter":0.1197,"align":0.806}},"y":{"datum":1.246},"text":{"field":"g"},"fill":{"field":"g","type":"nominal","scale":{"domain":["IntgT","IntgE","IntgI"],"range":["#000000","#999999","#bbbbbb"]},"legend":null}}},
  {"data":{"values":[{}]},"mark":{"type":"rule","strokeDash":[5,3],"strokeWidth":1.3,"color":"#222"},"encoding":{"y":{"datum":1}}},
  {"data":{"values":[{}]},"mark":{"type":"text","text":["HFS protocol in the presence of","THIP (200 nM)"],"fontSize":12,"fontWeight":"bold","lineHeight":15.3,"baseline":"middle","dx":1.3,"dy":-21.2,"color":"#111"},"encoding":{"x":{"datum":"IntgE"},"y":{"datum":1.5}}},
  {"data":{"values":[{}]},"mark":{"type":"text","text":"B","fontSize":17,"fontWeight":"bold","dx":-58.7,"dy":-32.8},"encoding":{"x":{"datum":"IntgT"},"y":{"datum":1.5}}}
 ]},
{"data":{"name":"ed"},"width":227,"height":129.5,
 "layer":[
  {"mark":{"type":"bar","stroke":"white","strokeWidth":0.5},"encoding":{"x":{"field":"g","type":"nominal","scale":{"domain":["IntgT","IntgE","IntgI"],"paddingInner":0.1135,"paddingOuter":0.1667,"align":0.821},"axis":{"labels":false,"ticks":false,"title":null,"domainColor":"#ccc"}},"xOffset":{"field":"t","type":"nominal","scale":{"domain":["15","30","45","60"],"paddingInner":0.06}},"y":{"field":"v","type":"quantitative","scale":{"domain":[0,1.5],"nice":false},"axis":{"values":[0,0.5,1,1.5],"format":"~g","labelOverlap":false,"labelFontWeight":"bold","labelFontSize":9.5,"labelColor":"#111","domainColor":"#bbb","tickColor":"#bbb","tickSize":3,"grid":false,"title":null,"offset":-15,"labelPadding":2}},"color":{"field":"g","type":"nominal","scale":{"domain":["IntgT","IntgE","IntgI"],"range":["#000000","#808080","#c0c0c0"]},"legend":null}}},
  {"mark":{"type":"rule","strokeWidth":1},"encoding":{"x":{"field":"g","type":"nominal","scale":{"domain":["IntgT","IntgE","IntgI"],"paddingInner":0.1135,"paddingOuter":0.1667,"align":0.821}},"xOffset":{"field":"t","type":"nominal","scale":{"domain":["15","30","45","60"],"paddingInner":0.06}},"y":{"field":"v","type":"quantitative","scale":{"domain":[0,1.5],"nice":false}},"y2":{"field":"hi"},"color":{"field":"g","type":"nominal","scale":{"domain":["IntgT","IntgE","IntgI"],"range":["#000000","#808080","#c0c0c0"]},"legend":null}}},
  {"mark":{"type":"tick","thickness":1,"size":4},"encoding":{"x":{"field":"g","type":"nominal","scale":{"domain":["IntgT","IntgE","IntgI"],"paddingInner":0.1135,"paddingOuter":0.1667,"align":0.821}},"xOffset":{"field":"t","type":"nominal","scale":{"domain":["15","30","45","60"],"paddingInner":0.06}},"y":{"field":"hi","type":"quantitative","scale":{"domain":[0,1.5],"nice":false}},"color":{"field":"g","type":"nominal","scale":{"domain":["IntgT","IntgE","IntgI"],"range":["#000000","#808080","#c0c0c0"]},"legend":null}}},
  {"mark":{"type":"text","fontSize":9,"fontWeight":"bold","baseline":"alphabetic","dy":3,"color":"#111"},"encoding":{"x":{"field":"g","type":"nominal","scale":{"domain":["IntgT","IntgE","IntgI"],"paddingInner":0.1135,"paddingOuter":0.1667,"align":0.821}},"xOffset":{"field":"t","type":"nominal","scale":{"domain":["15","30","45","60"],"paddingInner":0.06}},"y":{"field":"hi","type":"quantitative","scale":{"domain":[0,1.5],"nice":false}},"text":{"field":"s"}}},
  {"mark":{"type":"text","fontSize":7.5,"fontWeight":"bold","baseline":"top","dy":3,"color":"#111"},"encoding":{"x":{"field":"g","type":"nominal","scale":{"domain":["IntgT","IntgE","IntgI"],"paddingInner":0.1135,"paddingOuter":0.1667,"align":0.821}},"xOffset":{"field":"t","type":"nominal","scale":{"domain":["15","30","45","60"],"paddingInner":0.06}},"y":{"datum":0},"text":{"field":"t"}}},
  {"data":{"values":[{"g":"IntgT"},{"g":"IntgE"},{"g":"IntgI"}]},"mark":{"type":"text","fontSize":12,"fontWeight":"bold"},"encoding":{"x":{"field":"g","type":"nominal","scale":{"domain":["IntgT","IntgE","IntgI"],"paddingInner":0.1135,"paddingOuter":0.1667,"align":0.821}},"y":{"datum":1.246},"text":{"field":"g"},"fill":{"field":"g","type":"nominal","scale":{"domain":["IntgT","IntgE","IntgI"],"range":["#000000","#999999","#bbbbbb"]},"legend":null}}},
  {"data":{"values":[{}]},"mark":{"type":"rule","strokeDash":[5,3],"strokeWidth":1.3,"color":"#222"},"encoding":{"y":{"datum":1}}},
  {"data":{"values":[{}]},"mark":{"type":"text","text":["HFS protocol in the presence of","THIP (10 µM)"],"fontSize":12,"fontWeight":"bold","lineHeight":15.3,"baseline":"middle","dx":5,"dy":-21.2,"color":"#111"},"encoding":{"x":{"datum":"IntgE"},"y":{"datum":1.5}}},
  {"data":{"values":[{}]},"mark":{"type":"text","text":"E","fontSize":17,"fontWeight":"bold","dx":-65.5,"dy":-32.8},"encoding":{"x":{"datum":"IntgT"},"y":{"datum":1.5}}}
 ]},
{"data":{"name":"cd"},"width":229,"height":129.3,
 "layer":[
  {"data":{"values":[{}]},"mark":{"type":"rule","strokeDash":[5,3],"strokeWidth":1.3,"color":"#222"},"encoding":{"y":{"datum":13.7,"type":"quantitative","scale":{"domain":[0,100],"nice":false},"axis":{"values":[0,20,40,60,80,100],"labels":false,"domainColor":"#bbb","tickColor":"#bbb","tickSize":3,"grid":false,"title":null,"offset":-8}}}},
  {"transform":[{"filter":"datum.g==='Excitation'"}],"mark":{"type":"bar","color":"#000","stroke":"white","strokeWidth":0.7},"encoding":{"x":{"field":"g","type":"nominal","scale":{"domain":["Excitation","Inhibition"],"paddingInner":0.0943,"paddingOuter":0.1274,"align":0.507},"axis":{"labels":false,"ticks":false,"title":null,"domainColor":"#bbb"}},"xOffset":{"field":"t","type":"nominal","scale":{"domain":["c","15","30","45","60"],"paddingInner":0}},"y":{"field":"v","type":"quantitative","scale":{"domain":[0,100],"nice":false}}}},
  {"transform":[{"filter":"datum.g==='Inhibition'"}],"mark":{"type":"bar","color":"#fff","stroke":"#777","strokeWidth":1},"encoding":{"x":{"field":"g","type":"nominal","scale":{"domain":["Excitation","Inhibition"],"paddingInner":0.0943,"paddingOuter":0.1274,"align":0.507}},"xOffset":{"field":"t","type":"nominal","scale":{"domain":["c","15","30","45","60"],"paddingInner":0}},"y":{"field":"v","type":"quantitative","scale":{"domain":[0,100],"nice":false}}}},
  {"mark":{"type":"rule","strokeWidth":1},"encoding":{"x":{"field":"g","type":"nominal","scale":{"domain":["Excitation","Inhibition"],"paddingInner":0.0943,"paddingOuter":0.1274,"align":0.507}},"xOffset":{"field":"t","type":"nominal","scale":{"domain":["c","15","30","45","60"],"paddingInner":0}},"y":{"field":"v","type":"quantitative","scale":{"domain":[0,100],"nice":false}},"y2":{"field":"hi"},"color":{"field":"g","type":"nominal","scale":{"domain":["Excitation","Inhibition"],"range":["#000000","#777777"]},"legend":null}}},
  {"mark":{"type":"tick","thickness":1,"size":4},"encoding":{"x":{"field":"g","type":"nominal","scale":{"domain":["Excitation","Inhibition"],"paddingInner":0.0943,"paddingOuter":0.1274,"align":0.507}},"xOffset":{"field":"t","type":"nominal","scale":{"domain":["c","15","30","45","60"],"paddingInner":0}},"y":{"field":"hi","type":"quantitative","scale":{"domain":[0,100],"nice":false}},"color":{"field":"g","type":"nominal","scale":{"domain":["Excitation","Inhibition"],"range":["#000000","#777777"]},"legend":null}}},
  {"mark":{"type":"text","fontSize":9,"fontWeight":"bold","baseline":"alphabetic","dy":3,"color":"#111"},"encoding":{"x":{"field":"g","type":"nominal","scale":{"domain":["Excitation","Inhibition"],"paddingInner":0.0943,"paddingOuter":0.1274,"align":0.507}},"xOffset":{"field":"t","type":"nominal","scale":{"domain":["c","15","30","45","60"],"paddingInner":0}},"y":{"field":"hi","type":"quantitative","scale":{"domain":[0,100],"nice":false}},"text":{"field":"s"}}},
  {"mark":{"type":"text","fontSize":10.5,"fontWeight":"bold","baseline":"top","dy":3,"color":"#111"},"encoding":{"x":{"field":"g","type":"nominal","scale":{"domain":["Excitation","Inhibition"],"paddingInner":0.0943,"paddingOuter":0.1274,"align":0.507}},"xOffset":{"field":"t","type":"nominal","scale":{"domain":["c","15","30","45","60"],"paddingInner":0}},"y":{"datum":0},"text":{"field":"t"}}},
  {"transform":[{"filter":"datum.t==='15'"}],"mark":{"type":"text","text":"↑","font":"DejaVu Sans","fontSize":11,"baseline":"top","dx":-11,"dy":1,"color":"#000"},"encoding":{"x":{"field":"g","type":"nominal","scale":{"domain":["Excitation","Inhibition"],"paddingInner":0.0943,"paddingOuter":0.1274,"align":0.507}},"xOffset":{"field":"t","type":"nominal","scale":{"domain":["c","15","30","45","60"],"paddingInner":0}},"y":{"datum":0}}},
  {"transform":[{"filter":"datum.t==='15'"}],"mark":{"type":"text","text":"HFS","fontSize":7,"fontWeight":"bold","baseline":"top","dx":-9,"dy":17,"color":"#111"},"encoding":{"x":{"field":"g","type":"nominal","scale":{"domain":["Excitation","Inhibition"],"paddingInner":0.0943,"paddingOuter":0.1274,"align":0.507}},"xOffset":{"field":"t","type":"nominal","scale":{"domain":["c","15","30","45","60"],"paddingInner":0}},"y":{"datum":0}}},
  {"data":{"values":[{}]},"mark":{"type":"rule","strokeDash":[5,3],"strokeWidth":1.3,"color":"#222"},"encoding":{"y":{"datum":87.1}}},
  {"data":{"name":"pct"},"mark":{"type":"text","fontSize":9,"fontWeight":"bold","align":"right","baseline":"middle","dx":-61.7,"color":"#111"},"encoding":{"x":{"datum":"Excitation"},"y":{"field":"y","type":"quantitative","scale":{"domain":[0,100],"nice":false}},"text":{"field":"y","type":"quantitative"}}},
  {"data":{"values":[{"g":"Excitation","t":"c"}]},"mark":{"type":"text","text":"%","fontSize":10,"fontWeight":"bold","dx":-3.3,"dy":1.5},"encoding":{"x":{"field":"g","type":"nominal","scale":{"domain":["Excitation","Inhibition"],"paddingInner":0.0943,"paddingOuter":0.1274,"align":0.507}},"xOffset":{"field":"t","type":"nominal","scale":{"domain":["c","15","30","45","60"],"paddingInner":0}},"y":{"datum":100}}},
  {"data":{"values":[{"g":"Excitation"}]},"mark":{"type":"text","text":"Excitation","fontSize":10,"fontWeight":"bold"},"encoding":{"x":{"field":"g","type":"nominal","scale":{"domain":["Excitation","Inhibition"],"paddingInner":0.0943,"paddingOuter":0.1274,"align":0.507}},"y":{"datum":32.2}}},
  {"data":{"values":[{"g":"Inhibition"}]},"mark":{"type":"text","text":"Inhibition","fontSize":10,"fontWeight":"bold"},"encoding":{"x":{"field":"g","type":"nominal","scale":{"domain":["Excitation","Inhibition"],"paddingInner":0.0943,"paddingOuter":0.1274,"align":0.507}},"y":{"datum":100}}},
  {"data":{"values":[{}]},"mark":{"type":"text","text":"C","fontSize":17,"fontWeight":"bold","dx":-77.7,"dy":-24},"encoding":{"x":{"datum":"Excitation"},"y":{"datum":100}}}
 ]},
{"data":{"name":"fd"},"width":250,"height":129.3,
 "layer":[
  {"data":{"values":[{}]},"mark":{"type":"rule","strokeDash":[5,3],"strokeWidth":1.3,"color":"#222"},"encoding":{"y":{"datum":21.4,"type":"quantitative","scale":{"domain":[0,100],"nice":false},"axis":{"values":[0,20,40,60,80,100],"labels":false,"domainColor":"#bbb","tickColor":"#bbb","tickSize":3,"grid":false,"title":null,"offset":-17.3}}}},
  {"transform":[{"filter":"datum.g==='Excitation'"}],"mark":{"type":"bar","color":"#000","stroke":"white","strokeWidth":0.7},"encoding":{"x":{"field":"g","type":"nominal","scale":{"domain":["Excitation","Inhibition"],"paddingInner":0.0994,"paddingOuter":0.2223,"align":0.4367},"axis":{"labels":false,"ticks":false,"title":null,"domainColor":"#bbb"}},"xOffset":{"field":"t","type":"nominal","scale":{"domain":["c","15","30","45","60"],"paddingInner":0}},"y":{"field":"v","type":"quantitative","scale":{"domain":[0,100],"nice":false}}}},
  {"transform":[{"filter":"datum.g==='Inhibition'"}],"mark":{"type":"bar","color":"#fff","stroke":"#777","strokeWidth":1},"encoding":{"x":{"field":"g","type":"nominal","scale":{"domain":["Excitation","Inhibition"],"paddingInner":0.0994,"paddingOuter":0.2223,"align":0.4367}},"xOffset":{"field":"t","type":"nominal","scale":{"domain":["c","15","30","45","60"],"paddingInner":0}},"y":{"field":"v","type":"quantitative","scale":{"domain":[0,100],"nice":false}}}},
  {"mark":{"type":"rule","strokeWidth":1},"encoding":{"x":{"field":"g","type":"nominal","scale":{"domain":["Excitation","Inhibition"],"paddingInner":0.0994,"paddingOuter":0.2223,"align":0.4367}},"xOffset":{"field":"t","type":"nominal","scale":{"domain":["c","15","30","45","60"],"paddingInner":0}},"y":{"field":"v","type":"quantitative","scale":{"domain":[0,100],"nice":false}},"y2":{"field":"hi"},"color":{"field":"g","type":"nominal","scale":{"domain":["Excitation","Inhibition"],"range":["#000000","#777777"]},"legend":null}}},
  {"mark":{"type":"tick","thickness":1,"size":4},"encoding":{"x":{"field":"g","type":"nominal","scale":{"domain":["Excitation","Inhibition"],"paddingInner":0.0994,"paddingOuter":0.2223,"align":0.4367}},"xOffset":{"field":"t","type":"nominal","scale":{"domain":["c","15","30","45","60"],"paddingInner":0}},"y":{"field":"hi","type":"quantitative","scale":{"domain":[0,100],"nice":false}},"color":{"field":"g","type":"nominal","scale":{"domain":["Excitation","Inhibition"],"range":["#000000","#777777"]},"legend":null}}},
  {"mark":{"type":"text","fontSize":9,"fontWeight":"bold","baseline":"alphabetic","dy":3,"color":"#111"},"encoding":{"x":{"field":"g","type":"nominal","scale":{"domain":["Excitation","Inhibition"],"paddingInner":0.0994,"paddingOuter":0.2223,"align":0.4367}},"xOffset":{"field":"t","type":"nominal","scale":{"domain":["c","15","30","45","60"],"paddingInner":0}},"y":{"field":"hi","type":"quantitative","scale":{"domain":[0,100],"nice":false}},"text":{"field":"s"}}},
  {"mark":{"type":"text","fontSize":10.5,"fontWeight":"bold","baseline":"top","dy":3,"color":"#111"},"encoding":{"x":{"field":"g","type":"nominal","scale":{"domain":["Excitation","Inhibition"],"paddingInner":0.0994,"paddingOuter":0.2223,"align":0.4367}},"xOffset":{"field":"t","type":"nominal","scale":{"domain":["c","15","30","45","60"],"paddingInner":0}},"y":{"datum":0},"text":{"field":"t"}}},
  {"transform":[{"filter":"datum.t==='15'"}],"mark":{"type":"text","text":"↑","font":"DejaVu Sans","fontSize":11,"baseline":"top","dx":-11,"dy":1,"color":"#000"},"encoding":{"x":{"field":"g","type":"nominal","scale":{"domain":["Excitation","Inhibition"],"paddingInner":0.0994,"paddingOuter":0.2223,"align":0.4367}},"xOffset":{"field":"t","type":"nominal","scale":{"domain":["c","15","30","45","60"],"paddingInner":0}},"y":{"datum":0}}},
  {"transform":[{"filter":"datum.t==='15'"}],"mark":{"type":"text","text":"HFS","fontSize":7,"fontWeight":"bold","baseline":"top","dx":-9,"dy":17,"color":"#111"},"encoding":{"x":{"field":"g","type":"nominal","scale":{"domain":["Excitation","Inhibition"],"paddingInner":0.0994,"paddingOuter":0.2223,"align":0.4367}},"xOffset":{"field":"t","type":"nominal","scale":{"domain":["c","15","30","45","60"],"paddingInner":0}},"y":{"datum":0}}},
  {"data":{"values":[{}]},"mark":{"type":"rule","strokeDash":[5,3],"strokeWidth":1.3,"color":"#222"},"encoding":{"y":{"datum":78.9}}},
  {"data":{"name":"pct"},"mark":{"type":"text","fontSize":9,"fontWeight":"bold","align":"right","baseline":"middle","dx":-60.7,"color":"#111"},"encoding":{"x":{"datum":"Excitation"},"y":{"field":"y","type":"quantitative","scale":{"domain":[0,100],"nice":false}},"text":{"field":"y","type":"quantitative"}}},
  {"data":{"values":[{"g":"Excitation","t":"c"}]},"mark":{"type":"text","text":"%","fontSize":10,"fontWeight":"bold","dx":-3.3,"dy":1.5},"encoding":{"x":{"field":"g","type":"nominal","scale":{"domain":["Excitation","Inhibition"],"paddingInner":0.0994,"paddingOuter":0.2223,"align":0.4367}},"xOffset":{"field":"t","type":"nominal","scale":{"domain":["c","15","30","45","60"],"paddingInner":0}},"y":{"datum":100}}},
  {"data":{"values":[{"g":"Excitation"}]},"mark":{"type":"text","text":"Excitation","fontSize":10,"fontWeight":"bold"},"encoding":{"x":{"field":"g","type":"nominal","scale":{"domain":["Excitation","Inhibition"],"paddingInner":0.0994,"paddingOuter":0.2223,"align":0.4367}},"y":{"datum":39.4}}},
  {"data":{"values":[{"g":"Inhibition"}]},"mark":{"type":"text","text":"Inhibition","fontSize":10,"fontWeight":"bold"},"encoding":{"x":{"field":"g","type":"nominal","scale":{"domain":["Excitation","Inhibition"],"paddingInner":0.0994,"paddingOuter":0.2223,"align":0.4367}},"y":{"datum":91}}},
  {"data":{"values":[{}]},"mark":{"type":"text","text":"F","fontSize":17,"fontWeight":"bold","dx":-83.7,"dy":-24},"encoding":{"x":{"datum":"Excitation"},"y":{"datum":100}}}
 ]}
],
"columns":2,
"spacing":{"row":44.6,"column":19},
"bounds":"flush",
"resolve":{"scale":{"color":"independent","fill":"independent"}}
}
